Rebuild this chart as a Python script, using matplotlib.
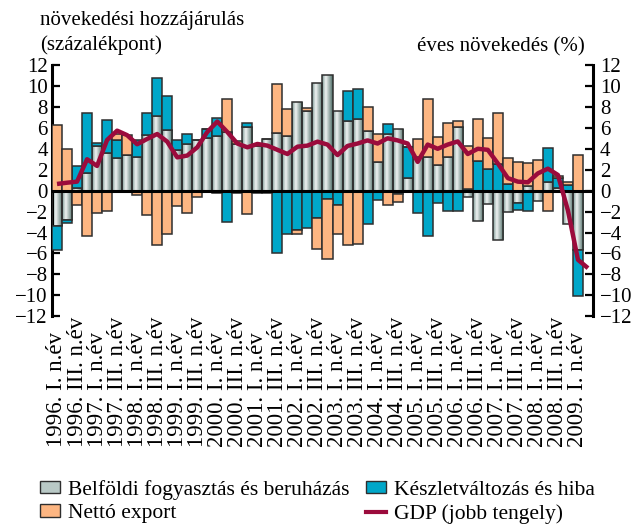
import numpy as np
import matplotlib
matplotlib.use("Agg")
import matplotlib.pyplot as plt
from matplotlib.colors import LinearSegmentedColormap
from matplotlib.patches import Patch
from matplotlib.lines import Line2D

plt.rcParams['font.family'] = ['Liberation Serif', 'DejaVu Serif']
plt.rcParams['axes.unicode_minus'] = True

years = list(range(1996, 2010))
quarters = [f"{y}. {q}" for y in years for q in ["I.", "II.", "III.", "IV."]][:53]
tick_labels = [f"{y}. {q} n.év" for y in years for q in ["I.", "III."]][:27]

domestic = [-3.35, -2.8, 0.3, 1.66, 4.27, 3.63, 3.1, 3.4, 3.25, 5.3,
            7.13, 5.8, 3.9, 4.5, 4.84, 5.0, 5.22, 5.64, 4.43, 6.1,
            4.27, 4.97, 5.48, 5.22, 8.44, 7.6, 10.25, 11.05, 7.6, 6.69,
            6.8, 5.7, 2.7, 5.38, 5.86, 1.24, 3.25, 3.25, 2.45, 3.18,
            6.1, -0.64, -2.9, -1.27, -4.7, -2.04, -1.2, 0.45, -1.0, 0.86,
            0.25, -3.2, -5.7]
stock = [-2.3, -0.3, 2.1, 5.8, 0.3, 3.1, 1.75, 0.0, 1.6, 2.1,
         3.6, 3.2, 0.9, 0.9, 0.0, 0.86, 1.68, -3.0, -0.25, 0.4,
         0.0, 0.0, -6.0, -4.1, -3.76, -3.6, -2.64, -0.83, -1.37, 2.83,
         2.86, -3.2, -0.9, 0.96, -0.35, 2.96, -2.17, -4.33, -1.15, -1.94,
         -1.9, 0.15, 2.87, 2.07, 2.55, 0.64, -0.64, -1.94, 0.0, 3.25,
         0.95, 0.55, -4.35]
net_export = [6.3, 3.95, -1.4, -4.3, -2.17, -1.9, 0.57, 1.9, -0.4, -2.3,
              -5.2, -4.15, -1.47, -2.1, -0.57, 0.0, -0.2, 3.1, 0.32, -2.23,
              -0.2, -0.25, 4.68, 2.6, -0.38, 0.3, -2.96, -5.73, -2.77, -5.2,
              -5.13, 2.3, 2.68, -1.37, -0.7, 0.0, 1.65, 5.48, 2.7, 3.25,
              0.55, 4.1, 4.0, 3.0, 4.84, 2.5, 2.7, 2.16, 2.93, -1.9,
              0.2, 0.3, 3.4]
gdp = [0.64, 0.76, 0.86, 3.0, 2.36, 4.84, 5.73, 5.3, 4.43, 4.94,
       5.41, 4.68, 3.18, 3.35, 4.14, 5.6, 6.6, 5.6, 4.5, 4.14,
       4.46, 4.3, 3.9, 3.5, 4.2, 4.3, 4.68, 4.4, 3.4, 4.27,
       4.5, 4.8, 4.5, 5.0, 4.8, 4.5, 2.75, 4.4, 4.0, 4.4,
       4.7, 3.5, 4.0, 3.9, 2.6, 1.2, 0.86, 0.8, 1.65, 2.1,
       1.5, -1.9, -6.6, -7.4]

series_names = ["Belföldi fogyasztás és beruházás", "Készletváltozás és hiba", "Nettó export"]
gdp_name = "GDP (jobb tengely)"

C_BLUE = "#00a7c9"
C_ORANGE = "#fdb682"
C_LINE = "#9b0b3c"
C_EDGE = "#2e2e2e"
gray_cmap = LinearSegmentedColormap.from_list(
    "g", [(0, "#7d9a95"), (0.35, "#f0f3f2"), (1.0, "#4a6b65")])

fig = plt.figure(figsize=(6.41, 5.25), dpi=100)
ax = fig.add_axes([0.0811, 0.3975, 0.844, 0.4787])

x = np.arange(len(quarters))
data = [np.array(domestic), np.array(stock), np.array(net_export)]
pos_base = np.zeros(len(x))
neg_base = np.zeros(len(x))
grad = np.linspace(0, 1, 64).reshape(1, -1)

for k, vals in enumerate(data):
    bottoms = np.where(vals >= 0, pos_base, neg_base)
    if k == 0:
        bars = ax.bar(x, vals, bottom=bottoms, width=1.0, facecolor="none",
                      edgecolor=C_EDGE, linewidth=1.1, zorder=3)
        for p in bars.patches:
            x0, y0, w, h = p.get_x(), p.get_y(), p.get_width(), p.get_height()
            if h == 0:
                continue
            im = ax.imshow(grad, extent=[x0, x0 + w, min(y0, y0 + h), max(y0, y0 + h)],
                           aspect="auto", cmap=gray_cmap, zorder=2, interpolation="bilinear")
            im.set_clip_path(p)
    else:
        color = C_BLUE if k == 1 else C_ORANGE
        ax.bar(x, vals, bottom=bottoms, width=1.0, facecolor=color,
               edgecolor=C_EDGE, linewidth=1.1, zorder=3)
    pos_base = pos_base + np.where(vals >= 0, vals, 0)
    neg_base = neg_base + np.where(vals < 0, vals, 0)

ax.axhline(0, color="black", linewidth=2.2, zorder=4)
ax.set_xlim(-0.5, 53.5)
ax.set_ylim(-12, 12)
ax.set_yticks(np.arange(-12, 13, 2))
ax.set_xticks(x[::2])
ax.set_xticklabels(tick_labels, rotation=90, fontsize=16.5, ha="center", va="bottom")
ax.tick_params(axis="x", length=0, pad=94)
ax.tick_params(axis="y", direction="in", length=6, width=1.6, labelsize=15, pad=3)
for s in ["top", "bottom", "right"]:
    ax.spines[s].set_visible(False)
ax.spines["left"].set_linewidth(2.2)

ax2 = ax.twinx()
ax2.set_ylim(-12, 12)
ax2.set_yticks(np.arange(-12, 13, 2))
ax2.plot(np.arange(len(gdp)), gdp, color=C_LINE, linewidth=3.2, zorder=5,
         solid_joinstyle="round", solid_capstyle="butt")
ax2.set_xlim(-0.5, 53.5)
ax2.tick_params(axis="y", direction="in", length=6, width=1.6, labelsize=15, pad=5)
for s in ["top", "bottom", "left"]:
    ax2.spines[s].set_visible(False)
ax2.spines["right"].set_linewidth(2.2)

fig.text(40 / 641, 1 - 21 / 525, "növekedési hozzájárulás", fontsize=15, va="center", ha="left")
fig.text(40 / 641, 1 - 45 / 525, "(százalékpont)", fontsize=15, va="center", ha="left")
fig.text(585 / 641, 1 - 47 / 525, "éves növekedés (%)", fontsize=15, va="center", ha="right")

handles = [
    Patch(facecolor="#b9c9c6", edgecolor=C_EDGE, linewidth=1.0),
    Patch(facecolor=C_ORANGE, edgecolor=C_EDGE, linewidth=1.0),
    Patch(facecolor=C_BLUE, edgecolor=C_EDGE, linewidth=1.0),
    Line2D([0], [0], color=C_LINE, linewidth=3),
]
labels = [series_names[0], series_names[2], series_names[1], gdp_name]
fig.legend(handles, labels, ncol=2, loc="upper left", bbox_to_anchor=(40 / 641, 1 - 480 / 525),
           frameon=False, fontsize=15.5, handlelength=0.95, handleheight=0.5,
           handletextpad=0.35, columnspacing=0.75, labelspacing=0.2, borderpad=0,
           borderaxespad=0)

fig.savefig("out.png", dpi=100)
